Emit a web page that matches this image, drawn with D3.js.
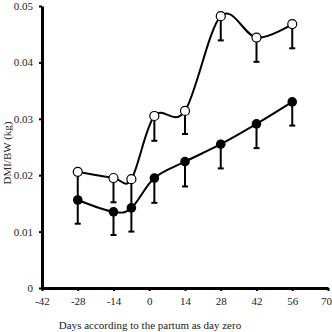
<!DOCTYPE html>
<html>
<head>
<meta charset="utf-8">
<script src="https://cdn.jsdelivr.net/npm/d3@7"></script>
<style>
  body { margin: 0; background: #fff; }
  svg { display: block; font-family: "Liberation Serif", "DejaVu Serif", serif; }
</style>
</head>
<body>
<svg class="chart"></svg>
<script>
var width = 332
var height = 332

// days relative to partum
var days = [-28, -14, -7, 2, 14, 28, 42, 56]
// open circles series: mean and lower end of error bar
var openMean = [0.0206, 0.0195, 0.0193, 0.0305, 0.0314, 0.0482, 0.0444, 0.0468]
var openLow = [0.0157, 0.0152, 0.0145, 0.0261, 0.0273, 0.0439, 0.0401, 0.0425]
// filled circles series
var fillMean = [0.0156, 0.0135, 0.0142, 0.0195, 0.0224, 0.0255, 0.0291, 0.0330]
var fillLow = [0.0114, 0.0094, 0.0100, 0.0151, 0.0180, 0.0212, 0.0248, 0.0288]

var xTicks = [-42, -28, -14, 0, 14, 28, 42, 56, 70]
var yTicks = [0, 0.01, 0.02, 0.03, 0.04, 0.05]

var svg = d3.select('.chart')
    .attr('width', width)
    .attr('height', height)

var x = d3.scaleLinear().domain([-42, 70]).range([42, 328])
var y = d3.scaleLinear().domain([0, 0.05]).range([288, 6])

function series(mean, low) {
    return days.map(function (d, i) { return { d: d, v: mean[i], lo: low[i] } })
}
var openData = series(openMean, openLow)
var fillData = series(fillMean, fillLow)

// axes
var xAxis = svg.append('g')
    .attr('transform', 'translate(0,' + y(0) + ')')
    .call(d3.axisBottom(x).tickValues(xTicks).tickSize(3).tickSizeOuter(0).tickPadding(6)
        .tickFormat(function (d) { return String(d) }))
var yAxis = svg.append('g')
    .attr('transform', 'translate(' + x(-42) + ',0)')
    .call(d3.axisLeft(y).tickValues(yTicks).tickSize(3).tickSizeOuter(0).tickPadding(6)
        .tickFormat(function (d) { return d === 0 ? '0' : d3.format('.2f')(d) }))

svg.selectAll('.domain').attr('stroke', '#000').attr('stroke-width', 3)
svg.selectAll('.tick line').attr('stroke', '#000').attr('stroke-width', 2)
svg.selectAll('.tick text')
    .attr('fill', '#222')
    .style('font-family', '"Liberation Serif", serif')
    .style('font-size', '11px')
// last x label sits at the right edge, keep it inside
xAxis.selectAll('.tick text').filter(function (d) { return d === 70 }).attr('dx', -2)

// axis titles
svg.append('text')
    .attr('x', 150)
    .attr('y', 329)
    .attr('text-anchor', 'middle')
    .style('font-size', '11px')
    .attr('fill', '#222')
    .text('Days according to the partum as day zero')

svg.append('text')
    .attr('transform', 'translate(11,153) rotate(-90)')
    .attr('text-anchor', 'middle')
    .style('font-size', '11px')
    .attr('fill', '#222')
    .text('DMI/BW (kg)')

// error bars (lower side only)
function errorBars(data) {
    var g = svg.append('g').attr('stroke', '#000').attr('stroke-width', 2)
    g.selectAll('line.v').data(data).enter().append('line')
        .attr('x1', function (d) { return x(d.d) })
        .attr('x2', function (d) { return x(d.d) })
        .attr('y1', function (d) { return y(d.v) })
        .attr('y2', function (d) { return y(d.lo) })
    g.selectAll('line.c').data(data).enter().append('line')
        .attr('x1', function (d) { return x(d.d) - 3 })
        .attr('x2', function (d) { return x(d.d) + 3 })
        .attr('y1', function (d) { return y(d.lo) })
        .attr('y2', function (d) { return y(d.lo) })
}
errorBars(fillData)
errorBars(openData)

var line = d3.line()
    .x(function (d) { return x(d.d) })
    .y(function (d) { return y(d.v) })
    .curve(d3.curveCardinal)

svg.append('path').datum(fillData)
    .attr('d', line).attr('fill', 'none').attr('stroke', '#000').attr('stroke-width', 2)
svg.append('path').datum(openData)
    .attr('d', line).attr('fill', 'none').attr('stroke', '#000').attr('stroke-width', 2)

svg.append('g').selectAll('circle').data(fillData).enter().append('circle')
    .attr('cx', function (d) { return x(d.d) })
    .attr('cy', function (d) { return y(d.v) })
    .attr('r', 4.8)
    .attr('fill', '#000')

svg.append('g').selectAll('circle').data(openData).enter().append('circle')
    .attr('cx', function (d) { return x(d.d) })
    .attr('cy', function (d) { return y(d.v) })
    .attr('r', 4.5)
    .attr('fill', '#fff')
    .attr('stroke', '#000')
    .attr('stroke-width', 1.2)
</script>
</body>
</html>
